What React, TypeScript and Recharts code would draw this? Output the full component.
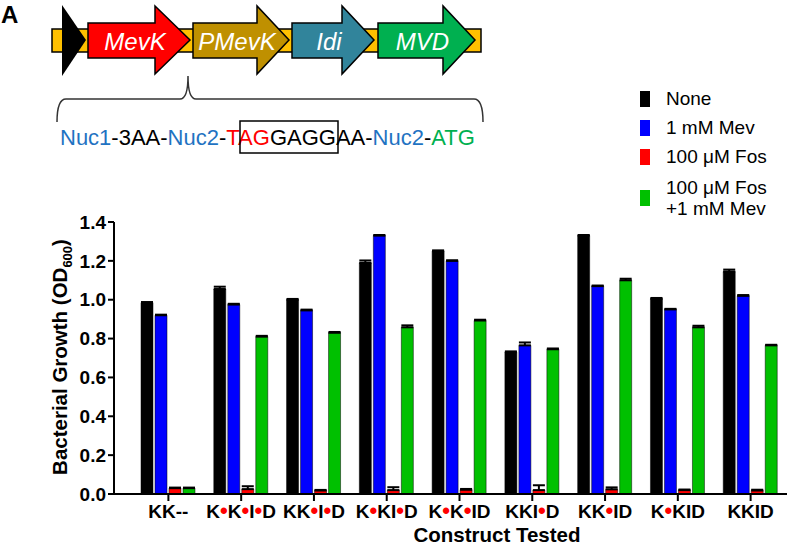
import React from "react";
import { BarChart, Bar, XAxis, YAxis, ErrorBar, Legend } from "recharts";

const categories = ["KK--", "K•K•I•D", "KK•I•D", "K•KI•D", "K•K•ID", "KKI•D", "KK•ID", "K•KID", "KKID"];
const none = [0.985, 1.055, 1.0, 1.19, 1.25, 0.73, 1.33, 1.005, 1.145];
const noneErr = [0.003, 0.012, 0.004, 0.012, 0.004, 0.004, 0.003, 0.004, 0.01];
const mev = [0.92, 0.975, 0.945, 1.33, 1.2, 0.765, 1.07, 0.95, 1.02];
const mevErr = [0.003, 0.004, 0.004, 0.003, 0.003, 0.015, 0.003, 0.003, 0.004];
const fos = [0.03, 0.025, 0.018, 0.02, 0.022, 0.02, 0.024, 0.02, 0.018];
const fosErr = [0.003, 0.015, 0.003, 0.015, 0.004, 0.025, 0.01, 0.003, 0.004];
const fosMev = [0.03, 0.81, 0.83, 0.858, 0.893, 0.745, 1.1, 0.858, 0.765];
const fosMevErr = [0.003, 0.004, 0.004, 0.01, 0.004, 0.004, 0.008, 0.008, 0.003];
const yTicks = [0, 0.2, 0.4, 0.6, 0.8, 1.0, 1.2, 1.4];

const seriesNames = ["None", "1 mM Mev", "100 μM Fos", "100 μM Fos\n+1 mM Mev"];
const seriesColors = ["#000000", "#0000FF", "#FF0000", "#00C000"];

const data = categories.map((cat, i) => ({
  cat,
  none: none[i],
  noneErr: [0, noneErr[i]],
  mev: mev[i],
  mevErr: [0, mevErr[i]],
  fos: fos[i],
  fosErr: [0, fosErr[i]],
  fosMev: fosMev[i],
  fosMevErr: [0, fosMevErr[i]],
}));

const FONT = "'Liberation Sans', Arial, Helvetica, sans-serif";

function XTick({ x, y, payload }: any) {
  const parts = String(payload.value).split("•");
  return (
    <text x={x} y={y} dy={15} textAnchor="middle" fontFamily={FONT} fontSize={19} fontWeight="bold" fill="#000">
      {parts.map((p, i) => (
        <React.Fragment key={i}>
          {i > 0 && (
            <tspan fill="#FF0000" fontSize={22}>
              •
            </tspan>
          )}
          <tspan fontSize={19}>{p}</tspan>
        </React.Fragment>
      ))}
    </text>
  );
}

function LegendBox() {
  const tops = [88, 117, 146, 177];
  return (
    <div style={{ position: "relative", width: 150, height: 140, fontFamily: FONT, fontSize: 19, color: "#000" }}>
      {seriesNames.map((name, i) => {
        const lines = name.split("\n");
        const h = lines.length * 21;
        return (
          <div key={name} style={{ position: "absolute", left: 0, top: tops[i] - 88, height: h, width: 150 }}>
            <div
              style={{
                position: "absolute",
                left: 4,
                top: h / 2 - 8,
                width: 10,
                height: 16,
                background: seriesColors[i],
              }}
            />
            <div style={{ position: "absolute", left: 30, top: 0, lineHeight: "21px", whiteSpace: "pre" }}>
              {name}
            </div>
          </div>
        );
      })}
    </div>
  );
}

function Arrow({ x0, xh, tip, fill, label }: any) {
  const d = `M${x0},23 L${xh},23 L${xh},6 L${tip},40 L${xh},74 L${xh},58 L${x0},58 Z`;
  return (
    <g>
      <path d={d} fill={fill} stroke="#000" strokeWidth={1.5} strokeLinejoin="miter" />
      <text
        x={(x0 + tip) / 2 - 4}
        y={50}
        textAnchor="middle"
        fill="#fff"
        fontFamily={FONT}
        fontStyle="italic"
        fontSize={24}
      >
        {label}
      </text>
    </g>
  );
}

function PanelA() {
  return (
    <svg width={788} height={170} style={{ position: "absolute", left: 0, top: 0 }}>
      <text x={1} y={23} fontFamily={FONT} fontWeight="bold" fontSize={24} fill="#000">
        A
      </text>
      <rect x={52} y={29} width={429} height={23} fill="#FFC000" stroke="#000" strokeWidth={1.5} />
      <path d="M62,5 L86,40 L62,76 Z" fill="#000" />
      <Arrow x0={88} xh={155} tip={190} fill="#FF0000" label="MevK" />
      <Arrow x0={193} xh={257} tip={289} fill="#BF9000" label="PMevK" />
      <Arrow x0={292} xh={342} tip={374} fill="#31849B" label="Idi" />
      <Arrow x0={378} xh={443} tip={475} fill="#00B050" label="MVD" />
      <path
        d="M57,122 Q57,99 66,99 L180,99 Q188,99 188,76 Q188,99 196,99 L474,99 Q483,99 483,122"
        fill="none"
        stroke="#333"
        strokeWidth={1.5}
      />
      <text x={60} y={145} fontFamily={FONT} fontSize={22}>
        <tspan fill="#1F73C2">Nuc1</tspan>
        <tspan fill="#000">-3AA-</tspan>
        <tspan fill="#1F73C2">Nuc2</tspan>
        <tspan fill="#000">-</tspan>
        <tspan fill="#FF0000">TAG</tspan>
        <tspan fill="#000">GAGGAA-</tspan>
        <tspan fill="#1F73C2">Nuc2</tspan>
        <tspan fill="#000">-</tspan>
        <tspan fill="#00B050">ATG</tspan>
      </text>
      <rect x={240} y={121} width={98} height={32} fill="none" stroke="#000" strokeWidth={1.5} />
    </svg>
  );
}

export default function App() {
  return (
    <div style={{ position: "absolute", left: 0, top: 0, width: 788, height: 545, background: "#fff" }}>
      <PanelA />
      <div style={{ position: "absolute", left: 0, top: 0 }}>
        <BarChart
          width={788}
          height={545}
          data={data}
          margin={{ top: 222, right: 1, bottom: 0, left: 0 }}
          barCategoryGap={9}
          barGap={2}
        >
          <XAxis
            dataKey="cat"
            interval={0}
            padding={{ left: 18, right: 0 }}
            height={51}
            tickSize={7}
            axisLine={{ stroke: "#000", strokeWidth: 2 }}
            tickLine={{ stroke: "#000", strokeWidth: 2 }}
            tick={<XTick />}
            label={(props: any) => (
              <text x={497} y={542} textAnchor="middle" fontFamily={FONT} fontWeight="bold" fontSize={20.5} fill="#000">
                Construct Tested
              </text>
            )}
          />
          <YAxis
            domain={[0, 1.4]}
            ticks={yTicks}
            width={114}
            tickSize={6}
            tickMargin={2}
            tickFormatter={(v: number) => v.toFixed(1)}
            axisLine={{ stroke: "#000", strokeWidth: 2 }}
            tickLine={{ stroke: "#000", strokeWidth: 2 }}
            tick={{ fill: "#000", fontSize: 19, fontWeight: "bold", fontFamily: FONT }}
            label={(props: any) => (
              <text
                x={0}
                y={0}
                transform="translate(67,357) rotate(-90)"
                textAnchor="middle"
                fontFamily={FONT}
                fontWeight="bold"
                fontSize={20.5}
                fill="#000"
              >
                Bacterial Growth (OD
                <tspan fontSize={13} dy={5}>
                  600
                </tspan>
                <tspan dy={-5}>)</tspan>
              </text>
            )}
          />
          <Legend
            layout="horizontal"
            verticalAlign="middle"
            align="center"
            wrapperStyle={{ top: 88, left: 636, width: 150, height: 140 }}
            content={() => <LegendBox />}
          />
          <Bar dataKey="none" name={seriesNames[0]} fill={seriesColors[0]} stroke="#000" strokeWidth={0.5} isAnimationActive={false}>
            <ErrorBar dataKey="noneErr" direction="y" width={6} stroke="#000" strokeWidth={2} />
          </Bar>
          <Bar dataKey="mev" name={seriesNames[1]} fill={seriesColors[1]} stroke="#000" strokeWidth={0.5} isAnimationActive={false}>
            <ErrorBar dataKey="mevErr" direction="y" width={6} stroke="#000" strokeWidth={2} />
          </Bar>
          <Bar dataKey="fos" name={seriesNames[2]} fill={seriesColors[2]} stroke="#000" strokeWidth={0.5} isAnimationActive={false}>
            <ErrorBar dataKey="fosErr" direction="y" width={6} stroke="#000" strokeWidth={2} />
          </Bar>
          <Bar dataKey="fosMev" name={seriesNames[3]} fill={seriesColors[3]} stroke="#000" strokeWidth={0.5} isAnimationActive={false}>
            <ErrorBar dataKey="fosMevErr" direction="y" width={6} stroke="#000" strokeWidth={2} />
          </Bar>
        </BarChart>
      </div>
    </div>
  );
}
